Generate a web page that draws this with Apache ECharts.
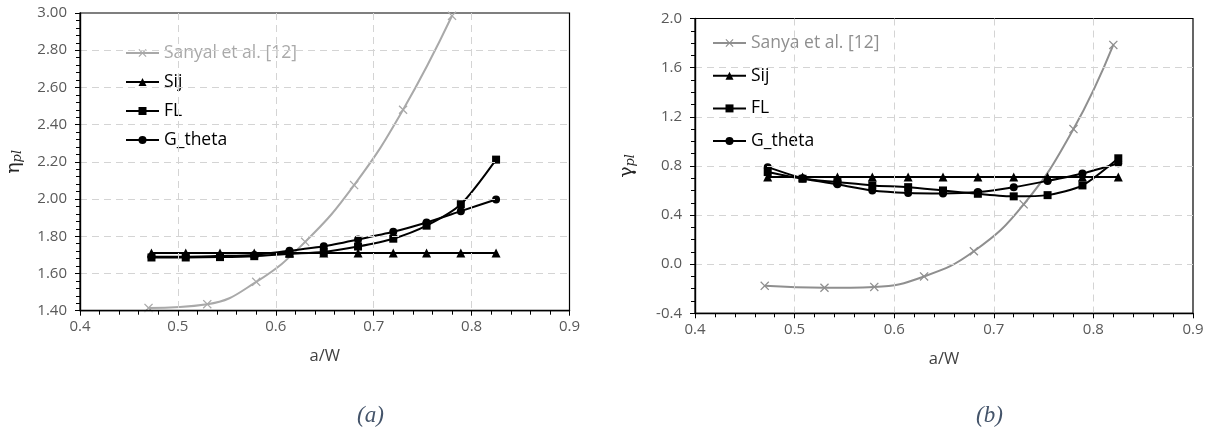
<!DOCTYPE html>
<html>
<head>
<meta charset="utf-8">
<style>
  html, body { margin: 0; padding: 0; background: #fff; }
  #chart { width: 1209px; height: 431px; }
</style>
<script src="https://cdn.jsdelivr.net/npm/echarts@6/dist/echarts.min.js"></script>
</head>
<body>
<div id="chart"></div>
<script>
// Crack length ratios a/W shared by the Sij, FL and G_theta computations
const aW = [0.473, 0.508, 0.543, 0.578, 0.614, 0.649, 0.684, 0.720, 0.754, 0.789, 0.825];

// (a) eta_pl
const sanyalX = [0.47, 0.53, 0.58, 0.63, 0.68, 0.73, 0.78];
const sanyalEta = [1.415, 1.435, 1.555, 1.770, 2.075, 2.480, 2.985];
const sijEta = [1.71, 1.71, 1.71, 1.71, 1.71, 1.71, 1.71, 1.71, 1.71, 1.71, 1.71];
const flEta = [1.686, 1.686, 1.688, 1.693, 1.706, 1.716, 1.745, 1.787, 1.857, 1.972, 2.212];
const gthetaEta = [1.690, 1.690, 1.694, 1.700, 1.722, 1.746, 1.783, 1.824, 1.874, 1.935, 1.998];

// (b) gamma_pl
const sanyaX = [0.47, 0.53, 0.58, 0.63, 0.68, 0.73, 0.78, 0.82];
const sanyaGamma = [-0.176, -0.192, -0.185, -0.100, 0.105, 0.487, 1.100, 1.785];
const sijGamma = [0.71, 0.71, 0.71, 0.71, 0.71, 0.71, 0.71, 0.71, 0.71, 0.71, 0.71];
const flGamma = [0.750, 0.695, 0.668, 0.641, 0.627, 0.600, 0.573, 0.552, 0.562, 0.641, 0.862];
const gthetaGamma = [0.790, 0.700, 0.650, 0.600, 0.580, 0.576, 0.587, 0.627, 0.678, 0.738, 0.822];

// Axis tick settings
const xTicks = { min: 0.4, max: 0.9, interval: 0.1 };
const etaTicks = { min: 1.4, max: 3.0, interval: 0.2 };
const gammaTicks = { min: -0.4, max: 2.0, interval: 0.4 };

const FONT = '"Open Sans", "Liberation Sans", sans-serif';
const LABEL_GRAY = '#595959';
const GRID_GRAY = '#d4d4d4';
const REF_GRAY_A = '#a9a9a9';
const REF_GRAY_B = '#8f8f8f';
const CROSS = 'path://M1,0 L5,4 L9,0 L10,1 L6,5 L10,9 L9,10 L5,6 L1,10 L0,9 L4,5 L0,1 Z';

const pairs = (xs, ys) => xs.map((x, i) => [x, ys[i]]);

const dashed = { show: true, showMinLine: false, showMaxLine: false,
  lineStyle: { color: GRID_GRAY, type: [7, 5], width: 1 } };

function xAxisFor(gridIndex) {
  return {
    type: 'value', gridIndex, position: 'bottom',
    min: xTicks.min, max: xTicks.max, interval: xTicks.interval,
    name: 'a/W', nameLocation: 'middle', nameGap: 37,
    nameTextStyle: { fontFamily: FONT, fontSize: 16.5, color: '#404040' },
    axisLine: { show: true, onZero: false, lineStyle: { color: '#000', width: 1.4 } },
    axisTick: { show: true, inside: false, length: 5, lineStyle: { color: '#000', width: 1 } },
    minorTick: { show: true, splitNumber: 5, length: 4, lineStyle: { color: '#000', width: 1 } },
    axisLabel: { show: true, fontFamily: FONT, fontSize: 15, color: LABEL_GRAY, margin: 9,
      formatter: v => v.toFixed(1) },
    splitLine: dashed,
    z: 5
  };
}

function yAxisFor(gridIndex, t, decimals, minorSplit, rich, nameGap) {
  return {
    type: 'value', gridIndex, position: 'left',
    min: t.min, max: t.max, interval: t.interval,
    name: rich, nameLocation: 'middle', nameGap,
    nameTextStyle: {
      rich: {
        g: { fontFamily: '"DejaVu Serif", serif', fontSize: 19, color: '#262626', lineHeight: 24, verticalAlign: 'bottom' },
        s: { fontFamily: '"DejaVu Serif", serif', fontStyle: 'italic', fontSize: 13, color: '#262626', lineHeight: 15, verticalAlign: 'bottom' }
      }
    },
    axisLine: { show: true, onZero: false, lineStyle: { color: '#000', width: 1.4 } },
    axisTick: { show: true, inside: false, length: 5, lineStyle: { color: '#000', width: 1 } },
    minorTick: { show: true, splitNumber: minorSplit, length: 4, lineStyle: { color: '#000', width: 1 } },
    axisLabel: { show: true, fontFamily: FONT, fontSize: 15, color: LABEL_GRAY, margin: 13,
      formatter: v => v.toFixed(decimals) },
    splitLine: dashed,
    z: 5
  };
}

function refSeries(name, gi, xs, ys, color) {
  return {
    name, type: 'line', xAxisIndex: gi, yAxisIndex: gi,
    data: pairs(xs, ys), smooth: 0.45, clip: true,
    symbol: CROSS, symbolSize: 9,
    lineStyle: { color, width: 2 },
    itemStyle: { color },
    z: 2
  };
}

function blackSeries(name, gi, ys, symbol, size, smooth) {
  return {
    name, type: 'line', xAxisIndex: gi, yAxisIndex: gi,
    data: pairs(aW, ys), smooth,
    symbol, symbolSize: size,
    lineStyle: { color: '#000', width: 2 },
    itemStyle: { color: '#000' },
    z: 3
  };
}

function legendFor(refName, refColor, left, top, gap) {
  return {
    orient: 'vertical', left, top,
    itemWidth: 33, itemHeight: 10, itemGap: gap,
    padding: [7, 8, 9, 5],
    backgroundColor: '#ffffff',
    textStyle: { fontFamily: FONT, fontSize: 17.5, color: '#000' },
    data: [
      { name: refName, textStyle: { color: refColor } },
      'Sij', 'FL', 'G_theta'
    ]
  };
}

const chart = echarts.init(document.getElementById('chart'), null, { renderer: 'canvas' });

chart.setOption({
  backgroundColor: '#ffffff',
  animation: false,
  grid: [
    { left: 80, top: 13, width: 489.5, height: 297.7, show: true, borderColor: '#000', borderWidth: 1.2 },
    { left: 695, top: 18.5, width: 498, height: 294.8, show: true, borderColor: '#000', borderWidth: 1.2 }
  ],
  xAxis: [xAxisFor(0), xAxisFor(1)],
  yAxis: [
    yAxisFor(0, etaTicks, 2, 5, '{g|η}{s|pl}', 56),
    yAxisFor(1, gammaTicks, 1, 4, '{g|γ}{s|pl}', 58)
  ],
  legend: [
    legendFor('Sanyal et al. [12]', REF_GRAY_A, 120, 37, 11),
    legendFor('Sanya et al. [12]', REF_GRAY_B, 707, 27, 14.7)
  ],
  series: [
    refSeries('Sanyal et al. [12]', 0, sanyalX, sanyalEta, REF_GRAY_A),
    blackSeries('Sij', 0, sijEta, 'triangle', 9, false),
    blackSeries('FL', 0, flEta, 'rect', 8, 0.25),
    blackSeries('G_theta', 0, gthetaEta, 'circle', 8, 0.25),

    refSeries('Sanya et al. [12]', 1, sanyaX, sanyaGamma, REF_GRAY_B),
    blackSeries('Sij', 1, sijGamma, 'triangle', 9, false),
    blackSeries('FL', 1, flGamma, 'rect', 8, 0.25),
    blackSeries('G_theta', 1, gthetaGamma, 'circle', 8, 0.25)
  ],
  graphic: [
    { type: 'text', left: 357, top: 404,
      style: { text: '(a)', fontFamily: '"Liberation Serif", serif', fontStyle: 'italic', fontSize: 23, fill: '#44546a' } },
    { type: 'text', left: 976, top: 404,
      style: { text: '(b)', fontFamily: '"Liberation Serif", serif', fontStyle: 'italic', fontSize: 23, fill: '#44546a' } }
  ]
});
</script>
</body>
</html>
